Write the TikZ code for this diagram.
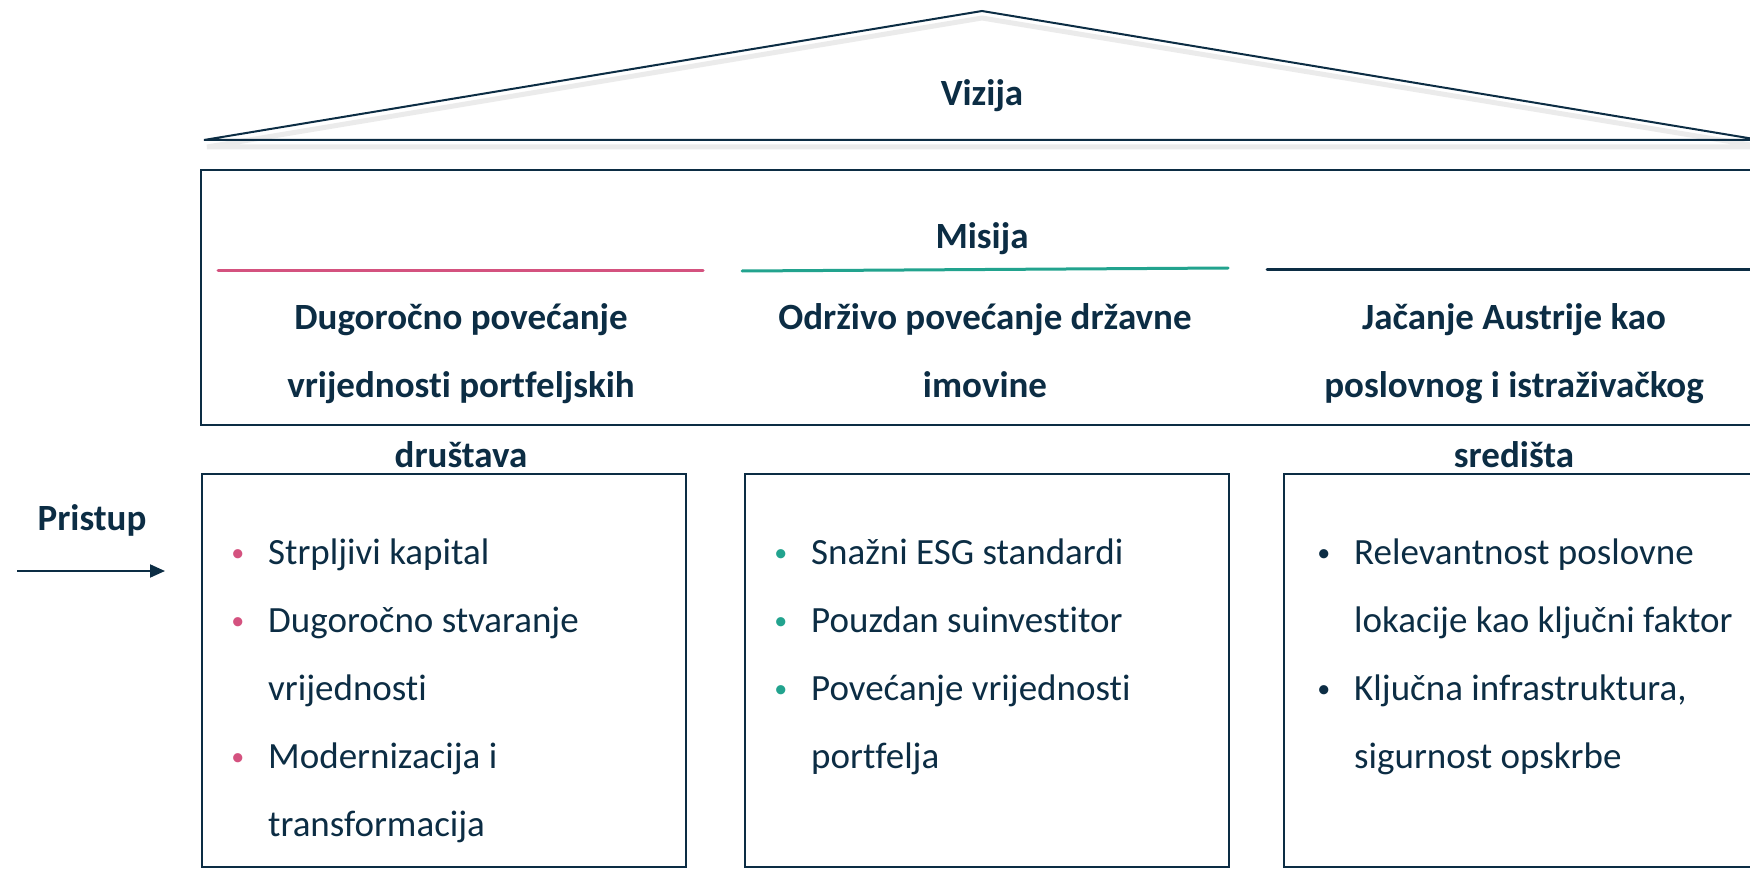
\documentclass[tikz,border=0pt]{standalone}
\usepackage{fontspec}
\setmainfont{Carlito}[Ligatures=NoCommon]
\usetikzlibrary{arrows.meta,positioning}

\definecolor{navy}{HTML}{0C2D44}
\definecolor{rosa}{HTML}{D4527F}
\definecolor{tirkiz}{HTML}{22A38E}

\newcommand{\bul}[1]{\llap{\textcolor{#1}{\raisebox{3pt}{\fontsize{26}{26}\selectfont\textbullet}}\hspace{24pt}}}

\tikzset{
  frame/.style={draw=navy, line width=2pt},
  head/.style={font=\bfseries\fontsize{37}{44}\selectfont, text=navy, inner sep=0pt, anchor=base},
  item/.style={font=\fontsize{37}{44}\selectfont, text=navy, inner sep=0pt, anchor=base west},
  stripe/.style={line width=3pt, line cap=round},
  pillar/.style={frame, anchor=north west, minimum width=484pt, minimum height=393pt, inner sep=0pt}
}

\begin{document}
\begin{tikzpicture}[x=1pt,y=-1pt]
\useasboundingbox (0,0) rectangle (1750,869);
% roof
\draw [black!8, line width=5pt] (207,147) -- (982,18) -- (1763,147) -- cycle;
\draw [frame] (204,140) -- (982,11) -- (1760,140) -- cycle;
\node [head] (vis) at (982,106) {Vizija};
% mission
\draw [frame] (201,170) rectangle (1765,425);
\node [head] (mis) at (982,248) {Misija};
\draw [stripe, rosa] (218,270) -- (703,270);
\draw [stripe, tirkiz] (742,271) -- (1228,268);
\draw [stripe, navy] (1267,269) -- (1765,269);
\node [head] (m1a) at (461,329) {Dugoročno povećanje};
\node [head] (m1b) at (461,397) {vrijednosti portfeljskih};
\node [head] (m1c) at (461,467) {društava};
\node [head] (m2a) at (985,329) {Održivo povećanje državne};
\node [head] (m2b) at (985,397) {imovine};
\node [head] (m3a) at (1514,329) {Jačanje Austrije kao};
\node [head] (m3b) at (1514,397) {poslovnog i istraživačkog};
\node [head] (m3c) at (1514,467) {središta};
% pillars
\node [pillar] (p1) at (201,473) {};
\node [pillar] (p2) at (744,473) {};
\node [pillar] (p3) at (1283,473) {};
\foreach \t [count=\i] in {\bul{rosa}Strpljivi kapital, \bul{rosa}Dugoročno stvaranje, vrijednosti, \bul{rosa}Modernizacija i, transformacija}
  \node [item] (a\i) at (268,496+68*\i) {\t};
\foreach \t [count=\i] in {\bul{tirkiz}Snažni ESG standardi, \bul{tirkiz}Pouzdan suinvestitor, \bul{tirkiz}Povećanje vrijednosti, portfelja}
  \node [item] (b\i) at (811,496+68*\i) {\t};
\foreach \t [count=\i] in {\bul{navy}Relevantnost poslovne, lokacije kao ključni faktor, {\bul{navy}Ključna infrastruktura,}, sigurnost opskrbe}
  \node [item] (c\i) at (1354,496+68*\i) {\t};
% approach
\node [head] (pr) at (92,530) {Pristup};
\coordinate (start) at (17,571);
\draw [navy, line width=2pt, -{Triangle[length=15pt,width=13pt]}, shorten >=36pt] (start) -- (start -| p1.west);
\end{tikzpicture}
\end{document}
